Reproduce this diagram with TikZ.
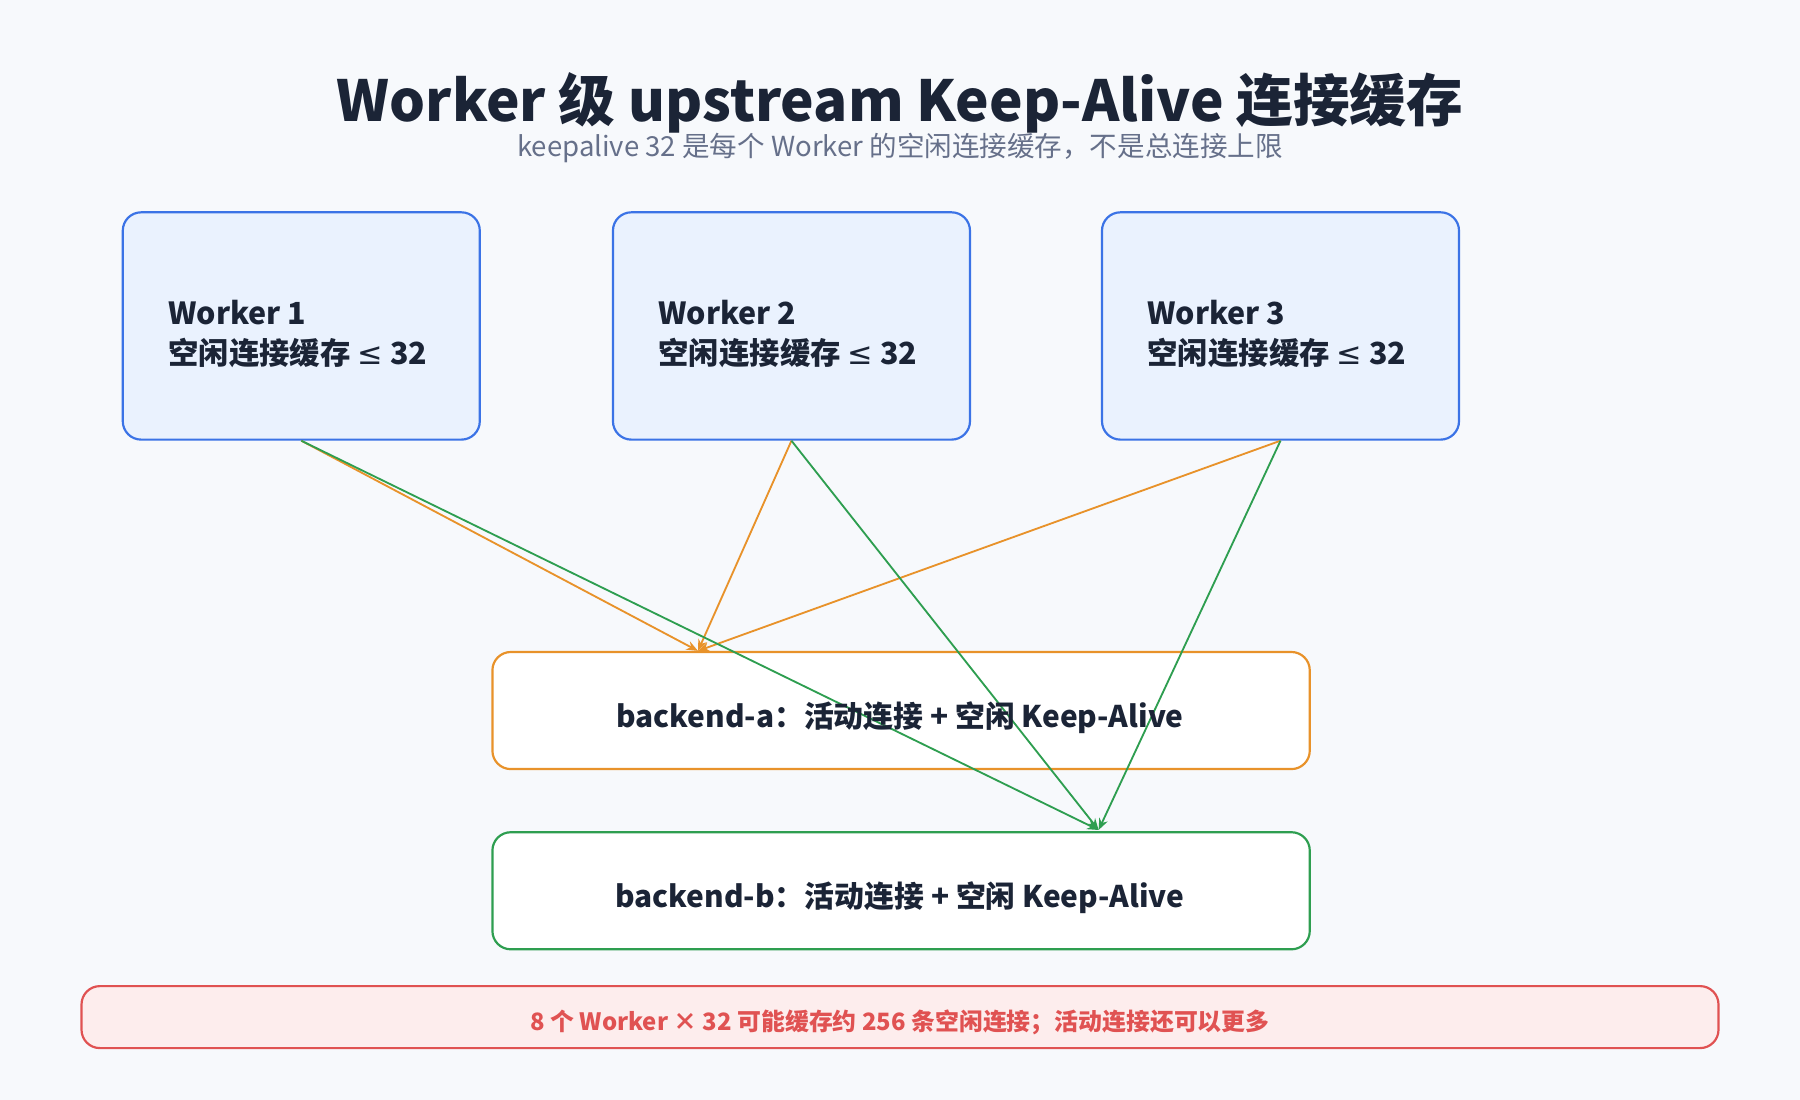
\documentclass[tikz,border=0pt]{standalone}
\usepackage{fontspec}
\setmainfont{Noto Sans CJK SC}
\newfontfamily\djv{DejaVu Sans}
\usetikzlibrary{arrows.meta}
\definecolor{bg}{HTML}{F7F9FC}
\definecolor{wfill}{HTML}{EAF2FE}
\definecolor{wline}{HTML}{3B73E6}
\definecolor{ora}{HTML}{E8922A}
\definecolor{grn}{HTML}{2E9E50}
\definecolor{rfill}{HTML}{FDEDED}
\definecolor{rline}{HTML}{E05252}
\definecolor{ink}{HTML}{1B2436}
\definecolor{sub}{HTML}{66708A}
\newcommand{\myle}{{\djv\mdseries ≤}}
\begin{document}
\begin{tikzpicture}[x=1pt,y=-1pt,
 worker/.style={draw=wline,fill=wfill,line width=1.9pt,rounded corners=16pt,minimum width=311pt,minimum height=198pt,anchor=north west},
 wtext/.style={anchor=west,align=left,font=\fontsize{26.5}{35}\selectfont\bfseries,text=ink},
 backend/.style={fill=white,line width=1.9pt,rounded corners=16pt,minimum width=712pt,minimum height=102pt,anchor=north west},
 btext/.style={font=\fontsize{26}{30}\selectfont\bfseries,text=ink},
 oarr/.style={draw=ora,line width=1.6pt,-{Stealth[length=10pt,width=8pt]}},
 garr/.style={draw=grn,line width=1.6pt,-{Stealth[length=10pt,width=8pt]}}]
\fill[bg] (0,0) rectangle (1568,958);
\useasboundingbox (0,0) rectangle (1568,958);
\node[font=\fontsize{49.3}{52}\selectfont\bfseries,text=ink] (title) at (784,90) {Worker 级 upstream Keep-Alive 连接缓存};
\node[font=\fontsize{24}{26}\selectfont,text=sub] (sub) at (784,129) {keepalive 32 是每个 Worker 的空闲连接缓存，不是总连接上限};
\node[worker] (w1) at (106,184) {};
\node[worker] (w2) at (533,184) {};
\node[worker] (w3) at (959,184) {};
\node[wtext] at (143,291) {Worker 1\\空闲连接缓存 \myle{} 32};
\node[wtext] at (570,291) {Worker 2\\空闲连接缓存 \myle{} 32};
\node[wtext] at (996,291) {Worker 3\\空闲连接缓存 \myle{} 32};
\node[backend,draw=ora] (ba) at (428,567) {};
\node[backend,draw=grn] (bb) at (428,724) {};
\coordinate (ta) at (608,567);
\coordinate (tb) at (957,723);
\draw[oarr] (w1.south) -- (ta);
\draw[oarr] (w2.south) -- (ta);
\draw[oarr] (w3.south) -- (ta);
\draw[garr] (w1.south) -- (tb);
\draw[garr] (w2.south) -- (tb);
\draw[garr] (w3.south) -- (tb);
\node[btext] at (784,625) {backend-a：活动连接 + 空闲 Keep-Alive};
\node[btext] at (784,782) {backend-b：活动连接 + 空闲 Keep-Alive};
\node[draw=rline,fill=rfill,line width=1.9pt,rounded corners=16pt,minimum width=1426pt,minimum height=54pt] (note) at (784,886) {};
\node[font=\fontsize{20.8}{24}\selectfont\bfseries,text=rline] at (784,891) {8 个 Worker × 32 可能缓存约 256 条空闲连接；活动连接还可以更多};
\end{tikzpicture}
\end{document}
